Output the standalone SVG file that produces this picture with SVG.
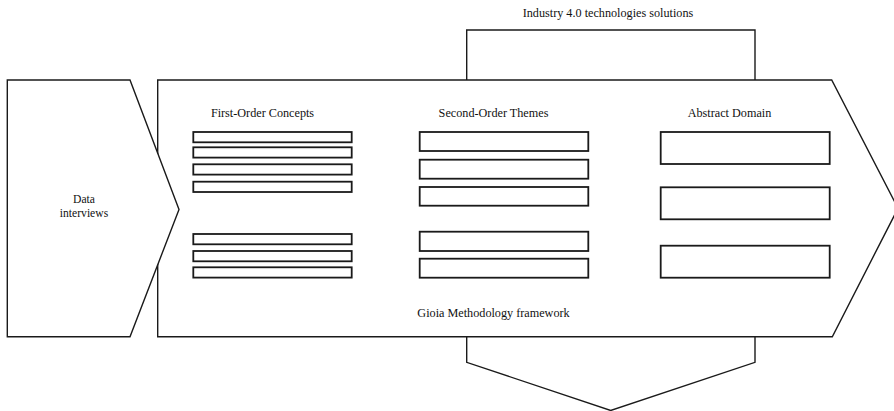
<svg xmlns="http://www.w3.org/2000/svg" width="894" height="411" viewBox="0 0 894 411">
<style>
.sh{fill:#fff;stroke:#1a1a1a;stroke-width:1.4;stroke-linejoin:miter}
.bar{fill:#fff;stroke:#1a1a1a;stroke-width:1.8}
.t{font-family:'Liberation Serif','DejaVu Serif',serif;font-size:12.2px;fill:#111;text-anchor:middle}
.s{font-size:11.6px}
</style>
<rect width="894" height="411" fill="#fff"/>
<g id="top-box">
<path class="sh" d="M466.7,80 V30 H755 V80"/>
<text class="t" x="608" y="17">Industry 4.0 technologies solutions</text>
</g>
<g id="bottom-arrow">
<path class="sh" d="M466.7,336.7 V362.3 L610.7,410.5 L755,362.3 V336.7"/>
</g>
<g id="gioia-framework">
<path class="sh" d="M157.7,80 H831.7 L898,208.3 L832.3,336.7 H157.7 Z"/>
<text class="t" x="493.5" y="316.5">Gioia Methodology framework</text>
</g>
<g id="data-interviews">
<path class="sh" d="M7.3,80 H130 L179,209.5 L130,336.7 H7.3 Z"/>
<text class="t s" x="84" y="203">Data</text>
<text class="t s" x="84" y="216.5">interviews</text>
</g>
<g id="first-order">
<text class="t" x="262.5" y="117">First-Order Concepts</text>
<rect class="bar" x="193.3" y="132" width="158.4" height="10.3"/>
<rect class="bar" x="193.3" y="147.3" width="158.4" height="10.3"/>
<rect class="bar" x="193.3" y="164.3" width="158.4" height="10.3"/>
<rect class="bar" x="193.3" y="181.7" width="158.4" height="10.3"/>
<rect class="bar" x="193.3" y="234" width="158.4" height="10.3"/>
<rect class="bar" x="193.3" y="251" width="158.4" height="10.3"/>
<rect class="bar" x="193.3" y="267.3" width="158.4" height="10.3"/>
</g>
<g id="second-order">
<text class="t" x="493.5" y="117">Second-Order Themes</text>
<rect class="bar" x="419.7" y="132" width="168.6" height="19"/>
<rect class="bar" x="419.7" y="159.7" width="168.6" height="19"/>
<rect class="bar" x="419.7" y="187" width="168.6" height="18.7"/>
<rect class="bar" x="419.7" y="231.7" width="168.6" height="19.3"/>
<rect class="bar" x="419.7" y="258.7" width="168.6" height="19"/>
</g>
<g id="abstract-domain">
<text class="t" x="729.5" y="117">Abstract Domain</text>
<rect class="bar" x="660.7" y="132" width="169" height="32"/>
<rect class="bar" x="660.7" y="187.3" width="169" height="32"/>
<rect class="bar" x="660.7" y="245.7" width="169" height="32"/>
</g>
<g id="connectors"></g>
</svg>
